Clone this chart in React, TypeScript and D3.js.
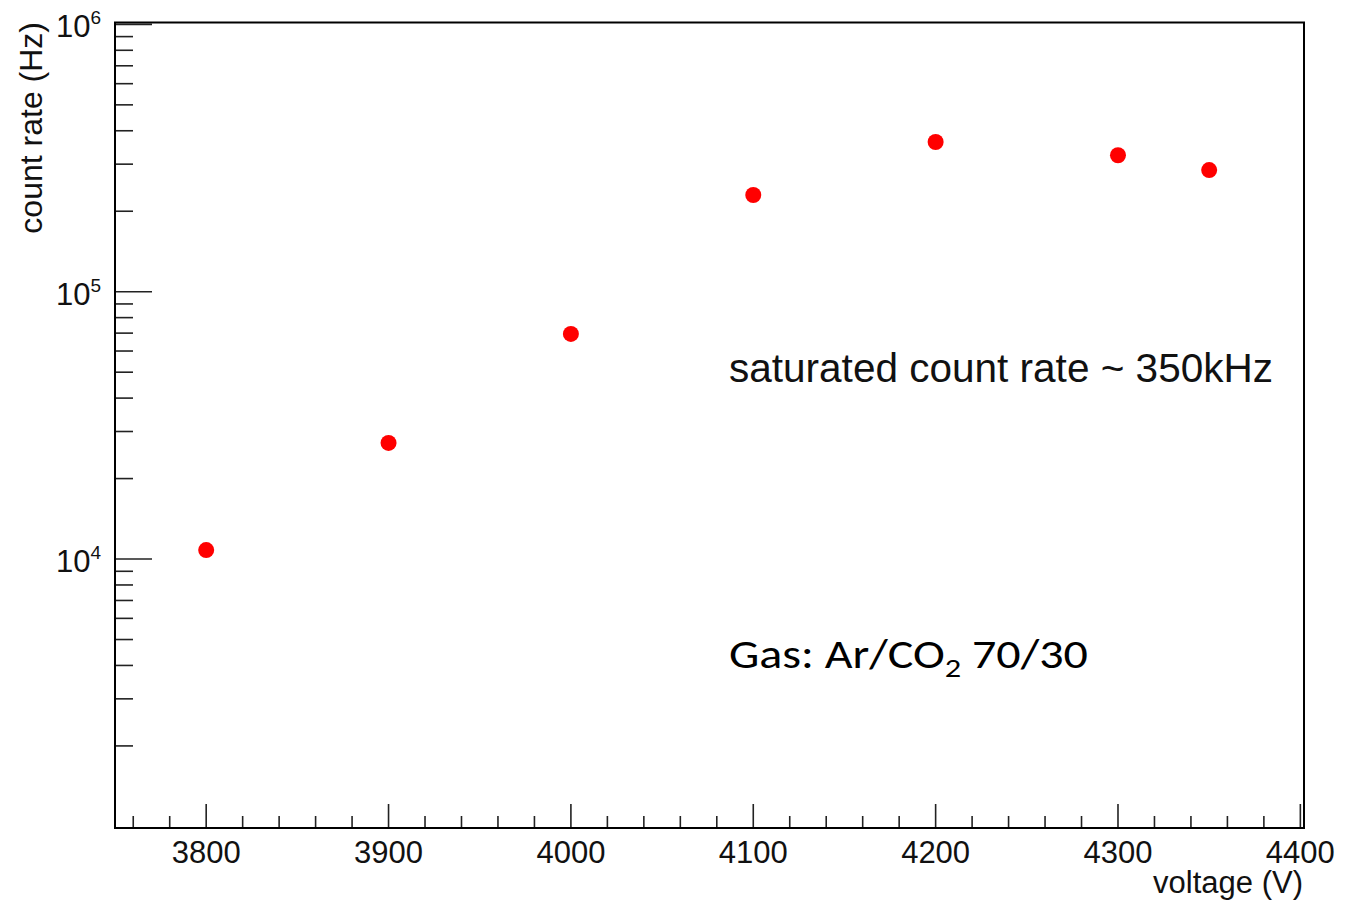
import React from "react";
import * as d3 from "d3";

const voltages = [3800, 3900, 4000, 4100, 4200, 4300, 4350];
const countRates = [10800, 27200, 69500, 230000, 363000, 324000, 285000];
const xMajorTicks = [3800, 3900, 4000, 4100, 4200, 4300, 4400];
const yMajorExponents = [4, 5, 6];
const xLabel = "voltage (V)";
const yLabel = "count rate (Hz)";
const note1 = "saturated count rate ~ 350kHz";

const W = 1349;
const H = 901;
const frame = { left: 115, right: 1304, top: 22.5, bottom: 828 };

export default function App() {
  const x = d3.scaleLinear().domain([3750, 4402]).range([frame.left, frame.right]);
  const y = d3
    .scaleLog()
    .domain([Math.pow(10, 2.994), Math.pow(10, 6.007)])
    .range([frame.bottom, frame.top]);

  const xMinor: number[] = d3.range(3760, 4400, 20).filter((v) => v % 100 !== 0);
  const yMinor: number[] = [];
  for (let e = 3; e <= 5; e++) {
    for (let m = 2; m <= 9; m++) yMinor.push(m * Math.pow(10, e));
  }
  const font = "'Liberation Sans', Arial, sans-serif";

  return (
    <svg width={W} height={H} style={{ position: "absolute", left: 0, top: 0, background: "#fff" }}>
      <rect x={0} y={0} width={W} height={H} fill="#fff" />
      {/* x ticks */}
      {xMinor.map((v) => (
        <line key={"xm" + v} x1={x(v)} x2={x(v)} y1={frame.bottom} y2={frame.bottom - 12} stroke="#222" strokeWidth={1.6} />
      ))}
      {xMajorTicks.map((v) => (
        <line key={"xM" + v} x1={x(v)} x2={x(v)} y1={frame.bottom} y2={frame.bottom - 24} stroke="#222" strokeWidth={1.6} />
      ))}
      {xMajorTicks.map((v) => (
        <text key={"xl" + v} x={x(v)} y={863} textAnchor="middle" fontFamily={font} fontSize={31} fill="#111">
          {v}
        </text>
      ))}
      {/* y ticks */}
      {yMinor.map((v) => (
        <line key={"ym" + v} x1={frame.left} x2={frame.left + 18} y1={y(v)} y2={y(v)} stroke="#222" strokeWidth={1.6} />
      ))}
      {yMajorExponents.map((e) => (
        <line key={"yM" + e} x1={frame.left} x2={frame.left + 37} y1={y(Math.pow(10, e))} y2={y(Math.pow(10, e))} stroke="#222" strokeWidth={1.6} />
      ))}
      {yMajorExponents.map((e) => (
        <text key={"yl" + e} x={101} y={y(Math.pow(10, e)) + 13} textAnchor="end" fontFamily={font} fontSize={31} fill="#111">
          10
          <tspan fontSize={19} dy={-13}>{e}</tspan>
        </text>
      ))}
      {/* frame */}
      <rect x={frame.left} y={frame.top} width={frame.right - frame.left} height={frame.bottom - frame.top} fill="none" stroke="#000" strokeWidth={2} />
      {/* axis titles */}
      <text x={1303} y={893} textAnchor="end" fontFamily={font} fontSize={31} fill="#111">
        {xLabel}
      </text>
      <text transform="translate(42,22) rotate(-90)" textAnchor="end" fontFamily={font} fontSize={32} fill="#111">
        {yLabel}
      </text>
      {/* data */}
      {voltages.map((v, i) => (
        <circle key={"p" + v} cx={x(v)} cy={y(countRates[i])} r={8} fill="#ff0000" />
      ))}
      {/* annotations */}
      <text x={729} y={382} fontFamily={font} fontSize={40} fill="#111" textLength={544} lengthAdjust="spacingAndGlyphs">
        {note1}
      </text>
      <g transform="translate(729,668) scale(1.2,1)">
        <text x={0} y={0} fontFamily="Carlito, Calibri, Lato, sans-serif" fontSize={40} fill="#000">
          Gas: Ar/CO
          <tspan fontSize={27} dy={9}>2</tspan>
          <tspan dy={-9}> 70/30</tspan>
        </text>
      </g>
    </svg>
  );
}
